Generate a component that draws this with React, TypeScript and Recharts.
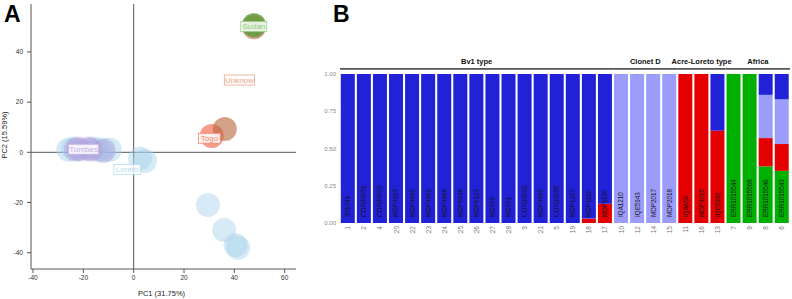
import React from 'react'
import {
  ScatterChart,
  Scatter,
  XAxis,
  YAxis,
  ReferenceLine,
  BarChart,
  Bar,
  ReferenceArea,
} from 'recharts'

// Panel A: PCA scores
const loretoPC1 = [-26, -24, -21, -16, -14, -12, -9.5, 2.5, 4.5, 29.5, 36, 40.5, 41.5]
const loretoPC2 = [1, 1.5, 1, 1.5, 1, 1, 1, -2.5, -3.5, -21, -31, -37, -38]
const tumbesPC1 = [-23, -22, -18, -17, -12]
const tumbesPC2 = [1, 1.5, 1.5, 1, 0.5]
const togoPC1 = [31]
const togoPC2 = [6.5]
const unknownPC1 = [36.2, 47.8]
const unknownPC2 = [9.3, 49.8]
const sudanPC1 = [47.8]
const sudanPC2 = [50.6]

const groupLabels = ['Tumbes', 'Loreto', 'Togo', 'Unknow', 'Sudan']
const labelPC1 = [-19.9, -2.6, 30.1, 42, 47.7]
const labelPC2 = [1.2, -6.8, 5.6, 28.8, 50.1]
const labelColors = ['#c4b0e6', '#b3daee', '#f4846c', '#e9a189', '#93cf83']

const xTicksA = [-40, -20, 0, 20, 40, 60]
const yTicksA = [-40, -20, 0, 20, 40]

// Panel B: ancestry proportions (bottom -> top: green, red, light, blue)
const sampleIds = ['1', '2', '4', '20', '22', '23', '24', '25', '26', '27', '28', '3', '21', '5', '19', '18', '17', '10', '12', '14', '15', '11', '16', '13', '7', '9', '8', '6']
const sampleNames = ['301049', 'COR20001', 'COR20003', 'MDP3823', 'MDP3895', 'MDP3962', 'MDP3988', 'MDP5048', 'MDP6123', 'MD760', 'MD761', 'COR20002', 'MDP3860', 'COR20005', 'MDP1207', 'MDP1110', 'MDP1120', 'IQA1210', 'IQE5943', 'MDP2017', 'MDP2018', 'IQA656', 'MDP3015', 'IQE5992', 'ERR1015544', 'ERR1015568', 'ERR1015546', 'ERR1015543']
const green = [0, 0, 0, 0, 0, 0, 0, 0, 0, 0, 0, 0, 0, 0, 0, 0, 0, 0, 0, 0, 0, 0, 0, 0, 1, 1, 0.38, 0.35]
const red = [0, 0, 0, 0, 0, 0, 0, 0, 0, 0, 0, 0, 0, 0, 0, 0.03, 0.13, 0, 0, 0, 0, 1, 1, 0.62, 0, 0, 0.19, 0.18]
const light = [0, 0, 0, 0, 0, 0, 0, 0, 0, 0, 0, 0, 0, 0, 0, 0, 0, 1, 1, 1, 1, 0, 0, 0, 0, 0, 0.29, 0.3]
const blue = [1, 1, 1, 1, 1, 1, 1, 1, 1, 1, 1, 1, 1, 1, 1, 0.97, 0.87, 0, 0, 0, 0, 0, 0, 0.38, 0, 0, 0.14, 0.17]

const groupNames = ['Bv1 type', 'Clonet D', 'Acre-Loreto type', 'Africa']
const groupFirst = ['1', '10', '11', '7']
const groupLast = ['17', '15', '13', '6']
const yTicksB = [0, 0.25, 0.5, 0.75, 1]

const FONT = '"Liberation Sans", Arial, sans-serif'

const narrow = 'ilrtfj.-'
function textWidth(s: string, size: number) {
  let w = 0
  for (const c of s) w += narrow.includes(c) ? 0.3 : c === c.toUpperCase() && c !== ' ' ? 0.62 : 0.53
  return w * size
}

const dot = (fill: string, opacity: number) => (props: any) => (
  <circle cx={props.cx} cy={props.cy} r={12} fill={fill} fillOpacity={opacity} />
)

const labelBox = (props: any) => {
  const { cx, cy, payload } = props
  const w = textWidth(payload.name, 8) + 4
  return (
    <g>
      <rect x={cx - w / 2} y={cy - 5} width={w} height={10} fill="#fff" fillOpacity={0.85} stroke={payload.color} strokeWidth={0.8} />
      <text x={cx} y={cy} dy="0.35em" textAnchor="middle" fontSize={8} fontFamily={FONT} fill={payload.color}>
        {payload.name}
      </text>
    </g>
  )
}

const sampleTick = (props: any) => {
  const { x, y, payload } = props
  const name = sampleNames[sampleIds.indexOf(payload.value)]
  return (
    <g>
      <text transform={`rotate(-90 ${x} ${y + 3})`} x={x} y={y + 3} dy="0.35em" textAnchor="end" fontSize={6.5} fontFamily={FONT} fill="#777">
        {payload.value}
      </text>
      <text transform={`rotate(-90 ${x} ${y - 6})`} x={x} y={y - 6} dy="0.35em" textAnchor="start" fontSize={6.3} fontFamily={FONT} fill="#151515">
        {name}
      </text>
    </g>
  )
}

const letterStyle: React.CSSProperties = { position: 'absolute', top: 2, fontSize: 23, lineHeight: '24px', fontWeight: 'bold', fontFamily: FONT }
const titleStyle: React.CSSProperties = { position: 'absolute', width: 100, textAlign: 'center', fontSize: 7.5, lineHeight: '10px', color: '#222', fontFamily: FONT }

export default function App() {
  const pts = (xs: number[], ys: number[]) => xs.map((x, i) => ({ x, y: ys[i] }))
  const labels = groupLabels.map((name, i) => ({ x: labelPC1[i], y: labelPC2[i], name, color: labelColors[i] }))
  const bars = sampleIds.map((id, i) => ({ id, green: green[i], red: red[i], light: light[i], blue: blue[i] }))

  const axisTick = { fontSize: 6.5, fill: '#333', fontFamily: FONT }

  return (
    <div style={{ position: 'absolute', left: 0, top: 0, width: 792, height: 299, background: '#fff', fontFamily: FONT }}>
      <div style={{ position: 'absolute', left: 0, top: 0 }}>
        <ScatterChart width={300} height={299} margin={{ top: 4, right: 4, bottom: 0, left: 0 }}>
          <XAxis
            type="number"
            dataKey="x"
            domain={[-40.8, 64.5]}
            ticks={xTicksA}
            allowDataOverflow
            height={30}
            stroke="#555"
            tickSize={4}
            tickMargin={2}
            tick={axisTick}
          />
          <XAxis xAxisId="top" orientation="top" type="number" domain={[-40.8, 64.5]} ticks={xTicksA} allowDataOverflow height={0} stroke="#555" tickSize={4} tick={false} />
          <YAxis
            type="number"
            dataKey="y"
            domain={[-46.5, 59.1]}
            ticks={yTicksA}
            allowDataOverflow
            width={31}
            stroke="#555"
            tickSize={4}
            tickMargin={4}
            tick={axisTick}
          />
          <YAxis yAxisId="right" orientation="right" type="number" domain={[-46.5, 59.1]} ticks={yTicksA} allowDataOverflow width={0} stroke="#555" tickSize={4} tick={false} />
          <ReferenceLine x={0} stroke="#555" />
          <ReferenceLine y={0} stroke="#555" />
          <Scatter data={pts(loretoPC1, loretoPC2)} shape={dot('#a3d0e8', 0.45)} isAnimationActive={false} />
          <Scatter data={pts(tumbesPC1, tumbesPC2)} shape={dot('#b09cdb', 0.42)} isAnimationActive={false} />
          <Scatter data={pts(togoPC1, togoPC2)} shape={dot('#f47a62', 0.75)} isAnimationActive={false} />
          <Scatter data={pts(unknownPC1, unknownPC2)} shape={dot('#b8623a', 0.6)} isAnimationActive={false} />
          <Scatter data={pts(sudanPC1, sudanPC2)} shape={dot('#5f9a3a', 0.85)} isAnimationActive={false} />
          <Scatter data={labels} shape={labelBox} isAnimationActive={false} />
        </ScatterChart>
      </div>

      <div style={{ position: 'absolute', left: 318, top: 0 }}>
        <BarChart width={474} height={299} data={bars} margin={{ top: 74, right: 2, bottom: 0, left: 0 }} barCategoryGap="5%">
          <YAxis
            domain={[0, 1]}
            ticks={yTicksB}
            width={22}
            axisLine={false}
            tickLine={false}
            tickSize={0}
            tickMargin={4}
            tick={{ fontSize: 6, fill: '#888', fontFamily: FONT }}
            tickFormatter={(v: number) => v.toFixed(2)}
          />
          <Bar dataKey="green" stackId="a" fill="#00b000" isAnimationActive={false} />
          <Bar dataKey="red" stackId="a" fill="#e40000" isAnimationActive={false} />
          <Bar dataKey="light" stackId="a" fill="#9c9cfb" isAnimationActive={false} />
          <Bar dataKey="blue" stackId="a" fill="#2121d8" isAnimationActive={false} />
          {groupNames.map((g, i) => (
            <ReferenceArea
              key={g}
              x1={groupFirst[i]}
              x2={groupLast[i]}
              y1={1.028}
              y2={1.04}
              ifOverflow="visible"
              fill="#555"
              fillOpacity={1}
              label={{ value: g, position: 'top', offset: 4, fontSize: 7.5, fontWeight: 'bold', fill: '#111', fontFamily: FONT }}
            />
          ))}
          <XAxis dataKey="id" interval={0} height={76} axisLine={false} tickLine={false} tickSize={0} tickMargin={0} tick={sampleTick} />
        </BarChart>
      </div>

      <div style={{ ...titleStyle, left: 111.5, top: 289 }}>PC1 (31.75%)</div>
      <div style={{ ...titleStyle, left: -45, top: 130, transform: 'rotate(-90deg)' }}>PC2 (15.59%)</div>
      <div style={{ ...letterStyle, left: 4 }}>A</div>
      <div style={{ ...letterStyle, left: 333 }}>B</div>
    </div>
  )
}
